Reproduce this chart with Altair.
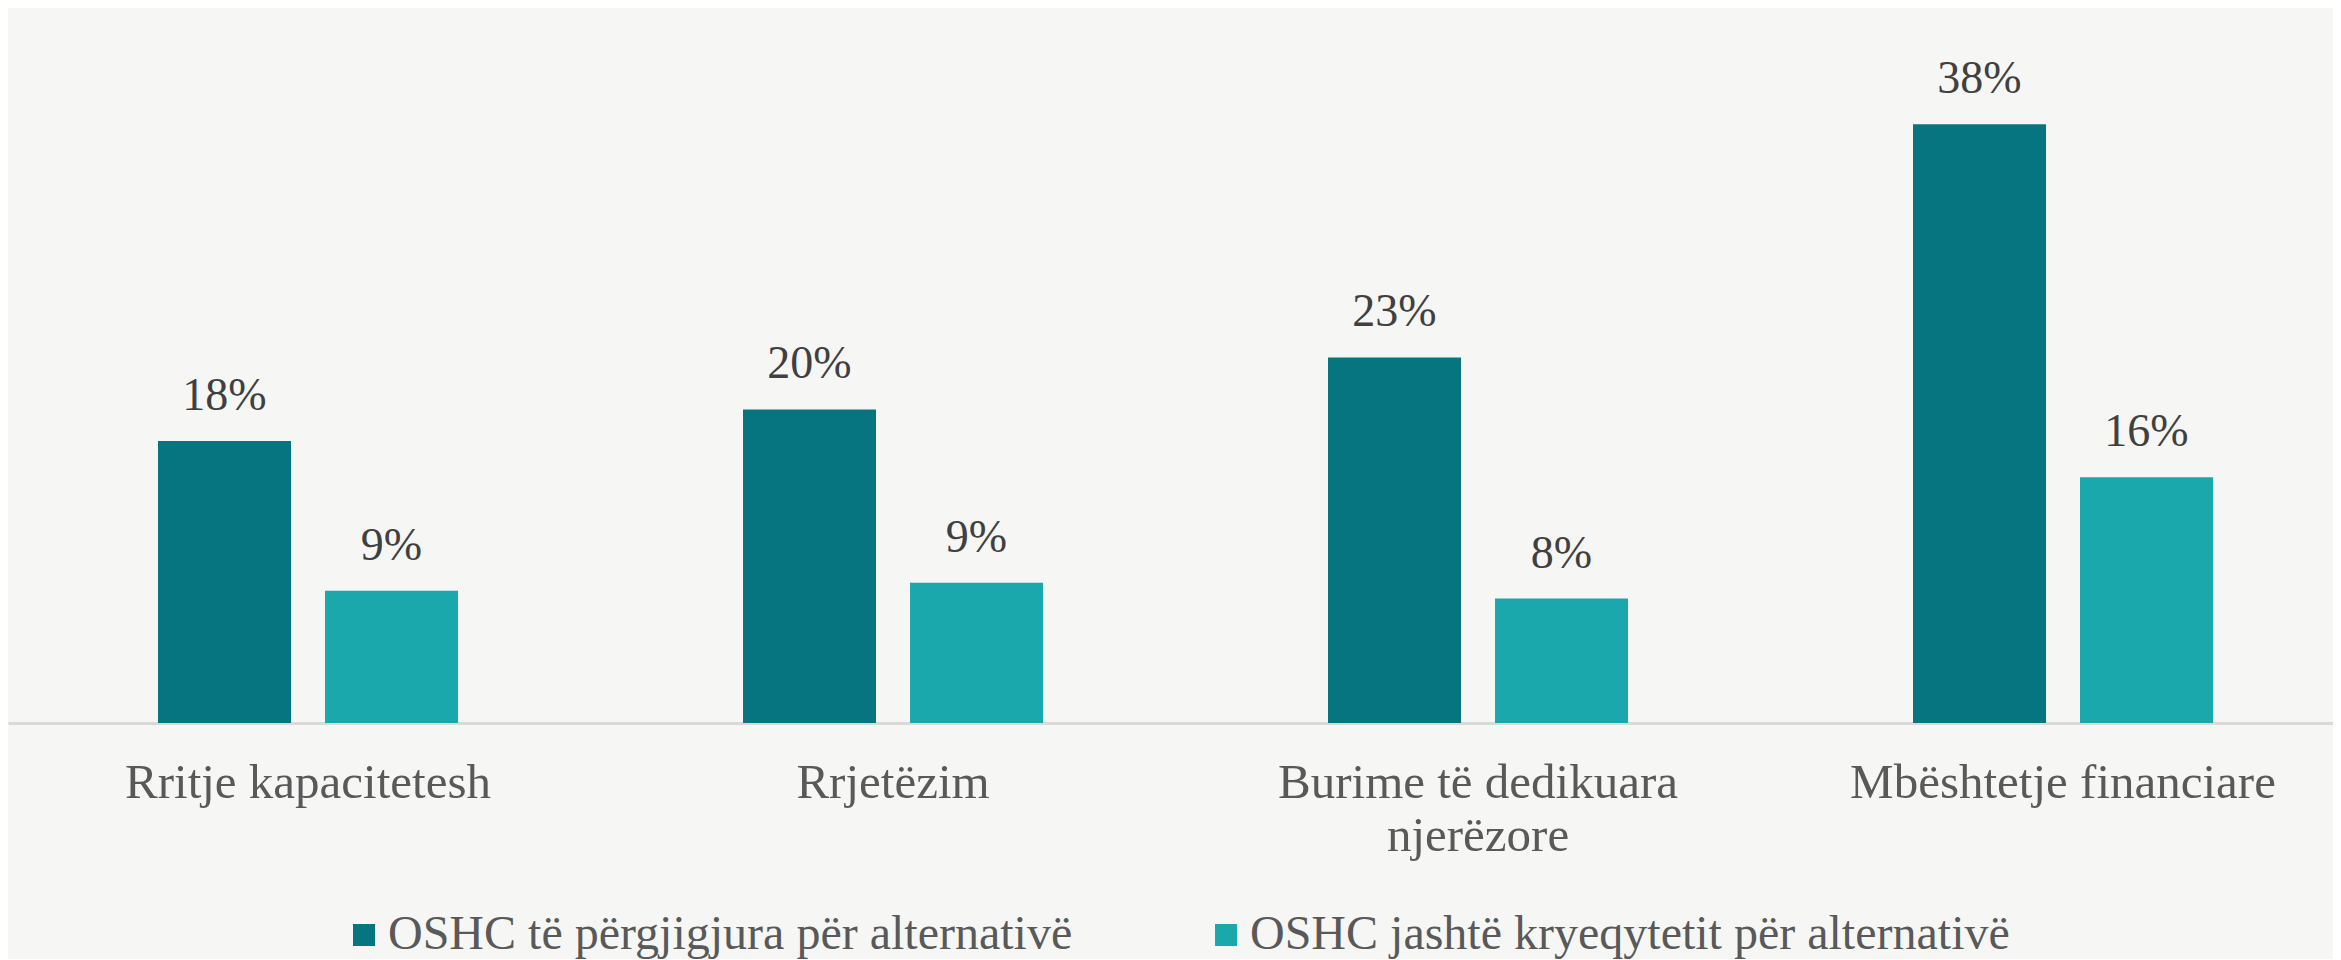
import altair as alt
import pandas as pd

categories = [
    "Rritje kapacitetesh",
    "Rrjetëzim",
    "Burime të dedikuara\nnjerëzore",
    "Mbështetje financiare",
]
series = [
    "OSHC të përgjigjura për alternativë",
    "OSHC jashtë kryeqytetit për alternativë",
]
values_s1 = [17.9, 19.9, 23.2, 38.0]
values_s2 = [8.4, 8.9, 7.9, 15.6]
labels_s1 = ["18%", "20%", "23%", "38%"]
labels_s2 = ["9%", "9%", "8%", "16%"]
colors = ["#06757F", "#1AA8AD"]

rows = []
for i, c in enumerate(categories):
    rows.append({"cat": c, "series": series[0], "value": values_s1[i], "label": labels_s1[i]})
    rows.append({"cat": c, "series": series[1], "value": values_s2[i], "label": labels_s2[i]})
df = pd.DataFrame(rows)

FONT = "Liberation Serif"

x = alt.X(
    "cat:N",
    sort=categories,
    title=None,
    scale=alt.Scale(paddingInner=0.48718, paddingOuter=0.23077, align=0.5556),
    axis=alt.Axis(
        labelAngle=0,
        ticks=False,
        tickSize=0,
        grid=False,
        labelPadding=74,
        labelBaseline="alphabetic",
        labelFont=FONT,
        labelFontSize=49,
        labelColor="#595959",
        labelLimit=1000,
        labelLineHeight=53,
        labelOverlap=False,
        labelExpr="split(datum.label, '\\n')",
        domainColor="#d9d9d9",
        domainWidth=3,
    ),
)
xo = alt.XOffset(
    "series:N",
    sort=series,
    scale=alt.Scale(paddingInner=0.2036, paddingOuter=0),
)
y = alt.Y(
    "value:Q",
    scale=alt.Scale(domain=[0, 45], nice=False, zero=True),
    axis=None,
)

bars = alt.Chart(df).mark_bar().encode(
    x=x,
    xOffset=xo,
    y=y,
    color=alt.Color(
        "series:N",
        sort=series,
        scale=alt.Scale(domain=series, range=colors),
        legend=alt.Legend(
            orient="none",
            legendX=332,
            legendY=897,
            direction="horizontal",
            title=None,
            symbolType="square",
            symbolSize=484,
            symbolStrokeWidth=0,
            labelFont=FONT,
            labelFontSize=48,
            labelColor="#595959",
            labelOffset=0,
            columnPadding=129,
            labelLimit=2000,
            padding=0,
        ),
    ),
)

texts = alt.Chart(df).mark_text(
    baseline="alphabetic",
    dy=-31,
    font=FONT,
    fontSize=46,
    color="#404040",
).encode(
    x=x,
    xOffset=xo,
    y=y,
    text="label:N",
)

chart = (
    alt.layer(bars, texts)
    .properties(
        width=2325,
        height=709,
        padding={"left": 0, "top": 6, "right": 0, "bottom": 0},
        background="#f6f7f5",
    )
    .configure_view(stroke=None)
)

chart.save("out.html", embed_options={"renderer": "svg", "actions": False})
